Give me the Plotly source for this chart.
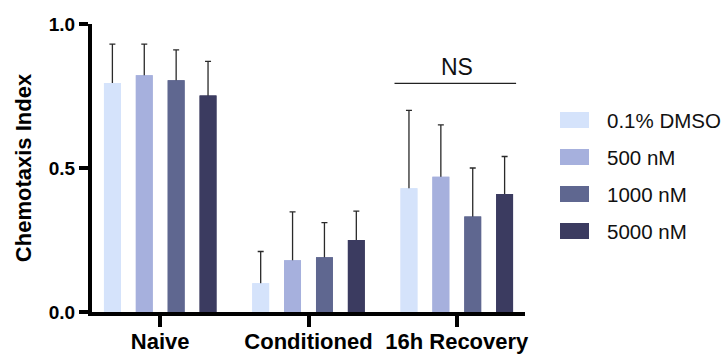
import plotly.graph_objects as go

categories = ["Naive", "Conditioned", "16h Recovery"]
series_names = ["0.1% DMSO", "500 nM", "1000 nM", "5000 nM"]
colors = ["#D5E3FB", "#A6B0DD", "#5F6790", "#3B3B60"]

dmso = [0.795, 0.100, 0.430]
nm500 = [0.822, 0.180, 0.470]
nm1000 = [0.805, 0.190, 0.332]
nm5000 = [0.752, 0.250, 0.410]

err_dmso = [0.135, 0.110, 0.270]
err_500 = [0.108, 0.168, 0.180]
err_1000 = [0.105, 0.120, 0.168]
err_5000 = [0.118, 0.100, 0.130]

values = [dmso, nm500, nm1000, nm5000]
errors = [err_dmso, err_500, err_1000, err_5000]

y_ticks = [0.0, 0.5, 1.0]
y_ticklabels = ["0.0", "0.5", "1.0"]

ns_label = "NS"
ns_category = "16h Recovery"
ns_line_y = 0.794
ns_text_y = 0.851

FONT = "Liberation Sans, Arial, sans-serif"
BARGAP = 0.14
BARGROUPGAP = 0.47

# plot-area geometry (pixels)
W, H = 725, 356
ML, MR, MT, MB = 92, 200, 24, 44
PW, PH = W - ML - MR, H - MT - MB


def px_to_paper(px, py):
    return (px - ML) / PW, (H - MB - py) / PH


fig = go.Figure()

# error bars layer (drawn underneath the visible bars so only the upper whisker shows)
for i, (name, vals, errs) in enumerate(zip(series_names, values, errors)):
    fig.add_trace(go.Bar(
        x=categories, y=vals, name=name, offsetgroup=str(i), legendgroup=f"g{i}",
        marker=dict(color=colors[i], line=dict(width=0)),
        showlegend=False, hoverinfo="skip",
        error_y=dict(type="data", symmetric=False, array=errs, arrayminus=vals,
                     color="#2a2a2a", thickness=1.3, width=3),
    ))
# visible bars
for i, (name, vals) in enumerate(zip(series_names, values)):
    fig.add_trace(go.Bar(
        x=categories, y=vals, name=name, offsetgroup=str(i), legendgroup=f"g{i}",
        marker=dict(color=colors[i], line=dict(width=0)),
        showlegend=False,
    ))

# NS bracket
ci = categories.index(ns_category)
fig.add_shape(type="line", xref="x", yref="y",
              x0=ci - 0.42, x1=ci + 0.40, y0=ns_line_y, y1=ns_line_y,
              line=dict(color="#222222", width=1.3))
fig.add_annotation(x=ci, y=ns_text_y, xref="x", yref="y", text=ns_label,
                   showarrow=False, font=dict(family=FONT, size=23, color="#111111"),
                   yanchor="middle")

# legend (swatch + label per series)
LEG_X, LEG_SW_W, LEG_SW_H = 560, 29, 16
LEG_Y0, LEG_DY, LEG_TEXT_X = 120, 37, 605
for i, name in enumerate(series_names):
    cy = LEG_Y0 + i * LEG_DY
    x0, y0 = px_to_paper(LEG_X, cy + LEG_SW_H / 2)
    x1, y1 = px_to_paper(LEG_X + LEG_SW_W, cy - LEG_SW_H / 2)
    fig.add_shape(type="rect", xref="paper", yref="paper", x0=x0, x1=x1, y0=y0, y1=y1,
                  fillcolor=colors[i], line=dict(width=0), layer="above")
    tx, ty = px_to_paper(LEG_TEXT_X, cy)
    fig.add_annotation(x=tx, y=ty, xref="paper", yref="paper", text=name,
                       showarrow=False, xanchor="left", yanchor="middle",
                       font=dict(family=FONT, size=20.5, color="#111111"))

fig.update_layout(
    width=W, height=H,
    margin=dict(l=ML, r=MR, t=MT, b=MB, autoexpand=False),
    paper_bgcolor="white", plot_bgcolor="white",
    barmode="group", bargap=BARGAP, bargroupgap=BARGROUPGAP,
    font=dict(family=FONT, color="black"),
    showlegend=False,
    xaxis=dict(type="category", range=[-0.46, 2.46], automargin=False,
               showline=True, linewidth=4, linecolor="black",
               ticks="outside", ticklen=11, tickwidth=4, tickcolor="black",
               ticklabelstandoff=-4,
               tickfont=dict(family=FONT, size=22, color="black", weight="bold"),
               showgrid=False, zeroline=False, fixedrange=True),
    yaxis=dict(range=[0, 1], tickvals=y_ticks, ticktext=y_ticklabels, automargin=False,
               showline=True, linewidth=4, linecolor="black",
               ticks="outside", ticklen=9, tickwidth=4, tickcolor="black",
               tickfont=dict(family=FONT, size=19, color="black", weight="bold"),
               title=dict(text="Chemotaxis Index", standoff=12,
                          font=dict(family=FONT, size=22, color="black", weight="bold")),
               showgrid=False, zeroline=False, fixedrange=True),
)

fig.write_html(
    "out.html",
    config={"displayModeBar": False},
    post_script="document.body.style.margin='0';document.body.style.overflow='hidden';",
)
